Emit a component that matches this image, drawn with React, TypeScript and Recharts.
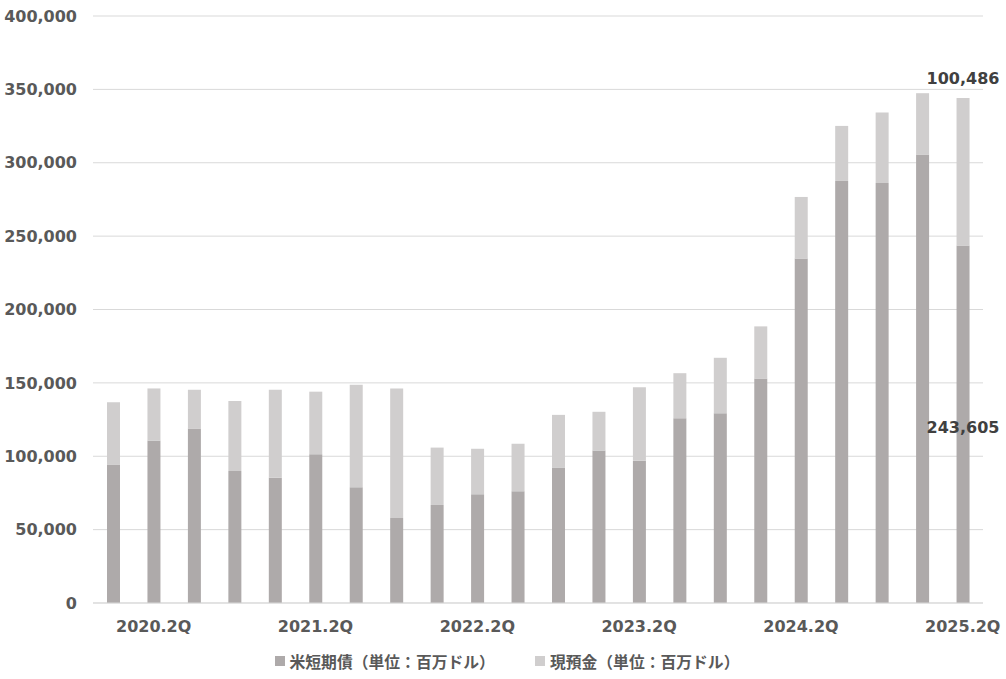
import { BarChart, Bar, XAxis, YAxis, CartesianGrid, Legend, LabelList } from "recharts";

const quarters = [
  "2020.1Q", "2020.2Q", "2020.3Q", "2020.4Q",
  "2021.1Q", "2021.2Q", "2021.3Q", "2021.4Q",
  "2022.1Q", "2022.2Q", "2022.3Q", "2022.4Q",
  "2023.1Q", "2023.2Q", "2023.3Q", "2023.4Q",
  "2024.1Q", "2024.2Q", "2024.3Q", "2024.4Q",
  "2025.1Q", "2025.2Q",
];

// 米短期債（単位：百万ドル）
const treasuries = [
  94300, 110500, 118900, 90000, 85300, 101400, 78900, 58000, 66800, 74100, 76100,
  92300, 103900, 96900, 125900, 129300, 153000, 234700, 287600, 286200, 305600, 243605,
];

// 現預金（単位：百万ドル）
const cash = [
  42500, 35700, 26400, 47700, 60000, 42600, 69800, 88200, 39100, 31000, 32500,
  35900, 26400, 50200, 30700, 37800, 35500, 42000, 37500, 48000, 41800, 100486,
];

const yTicks = [0, 50000, 100000, 150000, 200000, 250000, 300000, 350000, 400000];

const seriesNames = ["米短期債（単位：百万ドル）", "現預金（単位：百万ドル）"];
const colors = ["#aeaaaa", "#d0cece"];

const data = quarters.map((q, i) => ({ quarter: q, treasuries: treasuries[i], cash: cash[i] }));
const lastIndex = quarters.length - 1;

const fmt = (v: number) => v.toLocaleString("en-US");

const numFont = "'DejaVu Sans', Verdana, sans-serif";

function TopLabel(props: any) {
  const { x, y, width, index, value } = props;
  if (index !== lastIndex) return null;
  return (
    <text x={x + width / 2} y={y - 14} textAnchor="middle" fill="#404040"
      fontFamily={numFont} fontWeight="bold" fontSize={16}>
      {fmt(value)}
    </text>
  );
}

function MidLabel(props: any) {
  const { x, y, width, height, index, value } = props;
  if (index !== lastIndex) return null;
  return (
    <text x={x + width / 2} y={y + height / 2 + 9} textAnchor="middle" fill="#404040"
      fontFamily={numFont} fontWeight="bold" fontSize={16}>
      {fmt(value)}
    </text>
  );
}

function LegendContent() {
  return (
    <div style={{ display: "flex", justifyContent: "center", gap: 40, height: 24, alignItems: "center" }}>
      {seriesNames.map((name, i) => (
        <div key={name} style={{ display: "flex", alignItems: "center" }}>
          <span style={{ width: 10, height: 10, background: colors[i], marginRight: 5, display: "inline-block" }} />
          <span style={{ fontFamily: "'Noto Sans CJK JP', sans-serif", fontWeight: "bold", fontSize: 15.8, color: "#595959" }}>
            {name}
          </span>
        </div>
      ))}
    </div>
  );
}

export default function App() {
  return (
    <div style={{ position: "absolute", left: 0, top: 0, background: "#fff" }}>
      <BarChart width={1006} height={679} data={data} margin={{ top: 16, right: 23, bottom: 6, left: 0 }} barCategoryGap={0}>
        <CartesianGrid vertical={false} stroke="#d9d9d9" />
        <XAxis
          dataKey="quarter"
          interval={0}
          height={46}
          tickLine={false}
          axisLine={{ stroke: "#d9d9d9" }}
          tickMargin={12}
          tickFormatter={(v: string) => (v.endsWith("2Q") ? v : "")}
          tick={{ fill: "#595959", fontFamily: numFont, fontWeight: "bold", fontSize: 16 }}
        />
        <YAxis
          width={93}
          domain={[0, 400000]}
          ticks={yTicks}
          axisLine={false}
          tickLine={false}
          tickMargin={10}
          tickFormatter={fmt}
          tick={{ fill: "#595959", fontFamily: numFont, fontWeight: "bold", fontSize: 16 }}
        />
        <Legend verticalAlign="bottom" height={24} wrapperStyle={{ left: 4, width: 1006 }} content={<LegendContent />} />
        <Bar dataKey="treasuries" name={seriesNames[0]} stackId="a" fill={colors[0]} barSize={13} isAnimationActive={false}>
          <LabelList dataKey="treasuries" content={<MidLabel />} />
        </Bar>
        <Bar dataKey="cash" name={seriesNames[1]} stackId="a" fill={colors[1]} barSize={13} isAnimationActive={false}>
          <LabelList dataKey="cash" content={<TopLabel />} />
        </Bar>
      </BarChart>
    </div>
  );
}
